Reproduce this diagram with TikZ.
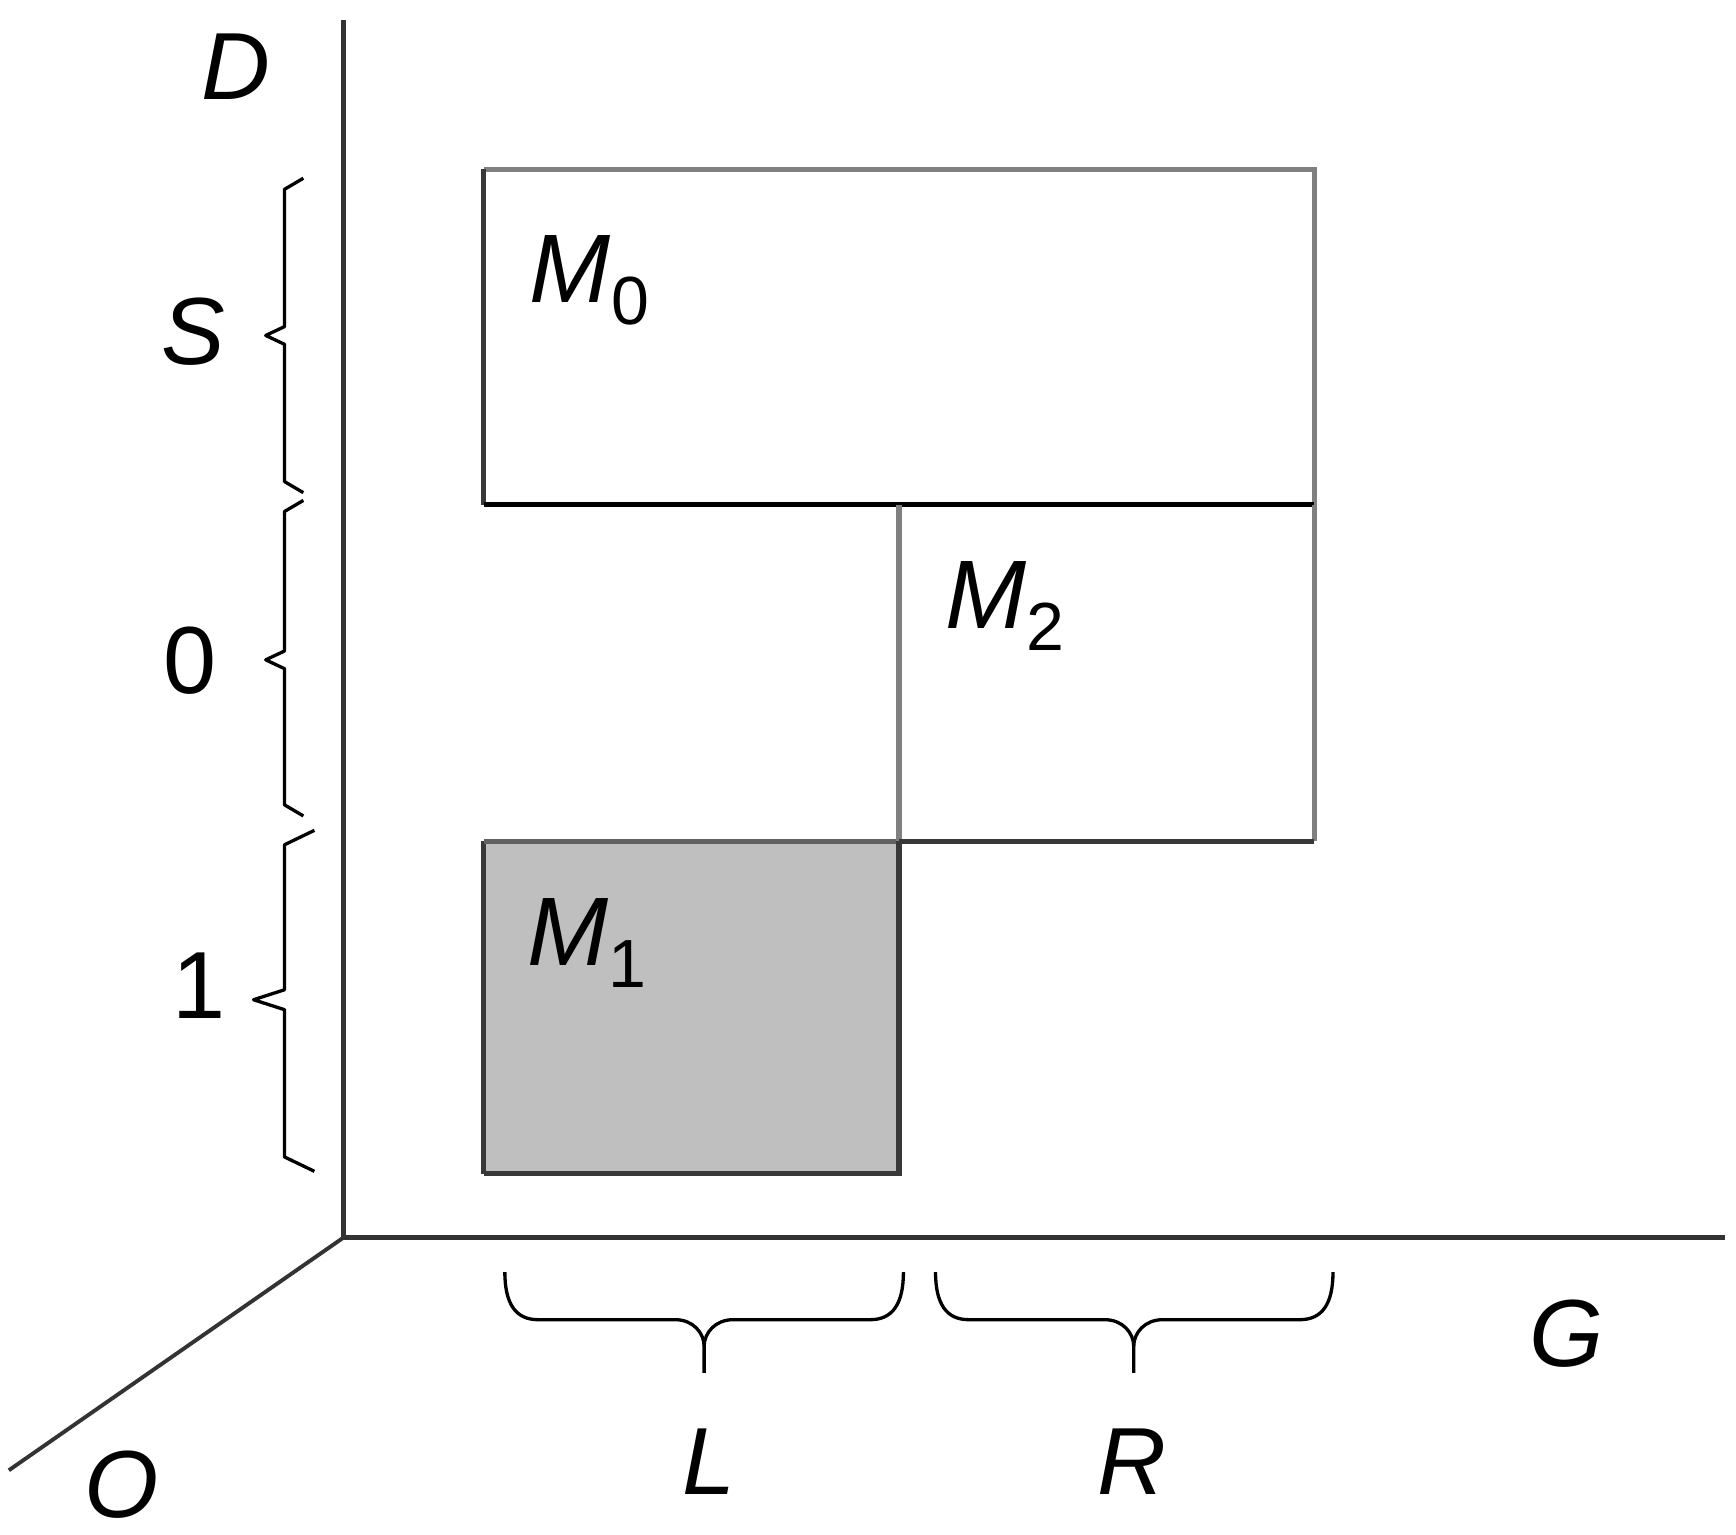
\documentclass[tikz,border=0pt]{standalone}
\usepackage{fontspec}
\setmainfont{Liberation Sans}
\newcommand{\Mlab}[1]{\textit{M}{\fontsize{17.5}{17.5}\selectfont\raisebox{-0.32em}{#1}}}
\begin{document}
\begin{tikzpicture}[x=0.01cm,y=-0.01cm,
  axis/.style={line width=1.35pt,draw=black!80},
  edgedark/.style={line width=1.35pt,draw=black!78},
  edgegray/.style={line width=1.35pt,draw=black!50},
  edgeblack/.style={line width=1.35pt,draw=black},
  bracel/.style={line width=0.85pt,draw=black,line join=round},
  lab/.style={font=\fontsize{24.5}{28}\selectfont,inner sep=0pt,anchor=center},
  mlab/.style={font=\fontsize{25}{28}\selectfont,inner sep=0pt,anchor=base west}]
\useasboundingbox (0,0) rectangle (1568,1386);
% axes
\coordinate (orig) at (310,1118);
\coordinate (dtop) at (310,18);
\coordinate (gend) at (1558,1118);
\coordinate (oend) at (8,1328);
\draw[axis] (dtop) -- (orig) -- (gend);
\draw[line width=1pt,draw=black!80] (orig) -- (oend);
% M1 filled
\fill[black!25] (437,760) rectangle (812,1060);
\draw[edgedark] (437,1060) -- (437,760);
\draw[line width=1.35pt,draw=black!62] (437,760) -- (812,760);
\draw[edgedark] (812,760) -- (812,1060) -- (437,1060);
% M0
\draw[edgegray] (437,153) -- (1187,153) -- (1187,456);
\draw[edgedark] (437,153) -- (437,456);
\draw[edgeblack] (437,456) -- (1187,456);
% M2
\draw[edgegray] (812,456) -- (812,760);
\draw[edgegray] (1187,456) -- (1187,760);
\draw[edgedark] (812,760) -- (1187,760);
% left braces
\draw[bracel] (274,161) -- (257,171) -- (257,295) -- (240,303) -- (257,311) -- (257,435) -- (274,445);
\draw[bracel] (274,452) -- (257,462) -- (257,588) -- (240,596) -- (257,604) -- (257,727) -- (274,737);
\draw[bracel] (284,750) -- (257,763) -- (257,894) -- (229,903) -- (257,912) -- (257,1045) -- (284,1058);
% bottom braces
\draw[bracel] (456,1149) .. controls (456,1178) and (466,1192) .. (486,1192) -- (610,1192) .. controls (626,1192) and (636,1204) .. (636,1216) -- (636,1240);
\draw[bracel] (636,1216) .. controls (636,1204) and (646,1192) .. (662,1192) -- (786,1192) .. controls (806,1192) and (816,1178) .. (816,1149);
\draw[bracel] (845,1149) .. controls (845,1178) and (855,1192) .. (875,1192) -- (998,1192) .. controls (1014,1192) and (1024,1204) .. (1024,1216) -- (1024,1240);
\draw[bracel] (1024,1216) .. controls (1024,1204) and (1034,1192) .. (1050,1192) -- (1174,1192) .. controls (1194,1192) and (1204,1178) .. (1204,1149);
% labels
\node[lab] (lD) at (213,60) {\textit{D}};
\node[lab] (lS) at (175,300) {\textit{S}};
\node[lab] (l0) at (172,597) {0};
\node[lab] (l1) at (180,890) {1};
\node[lab] (lG) at (1415,1205) {\textit{G}};
\node[lab] (lL) at (640,1320) {\textit{L}};
\node[lab] (lR) at (1022,1320) {\textit{R}};
\node[lab] (lO) at (110,1341) {\textit{O}};
\node[mlab] (m0) at (478,273) {\Mlab{0}};
\node[mlab] (m2) at (853,568) {\Mlab{2}};
\node[mlab] (m1) at (476,872) {\Mlab{1}};
\end{tikzpicture}
\end{document}
